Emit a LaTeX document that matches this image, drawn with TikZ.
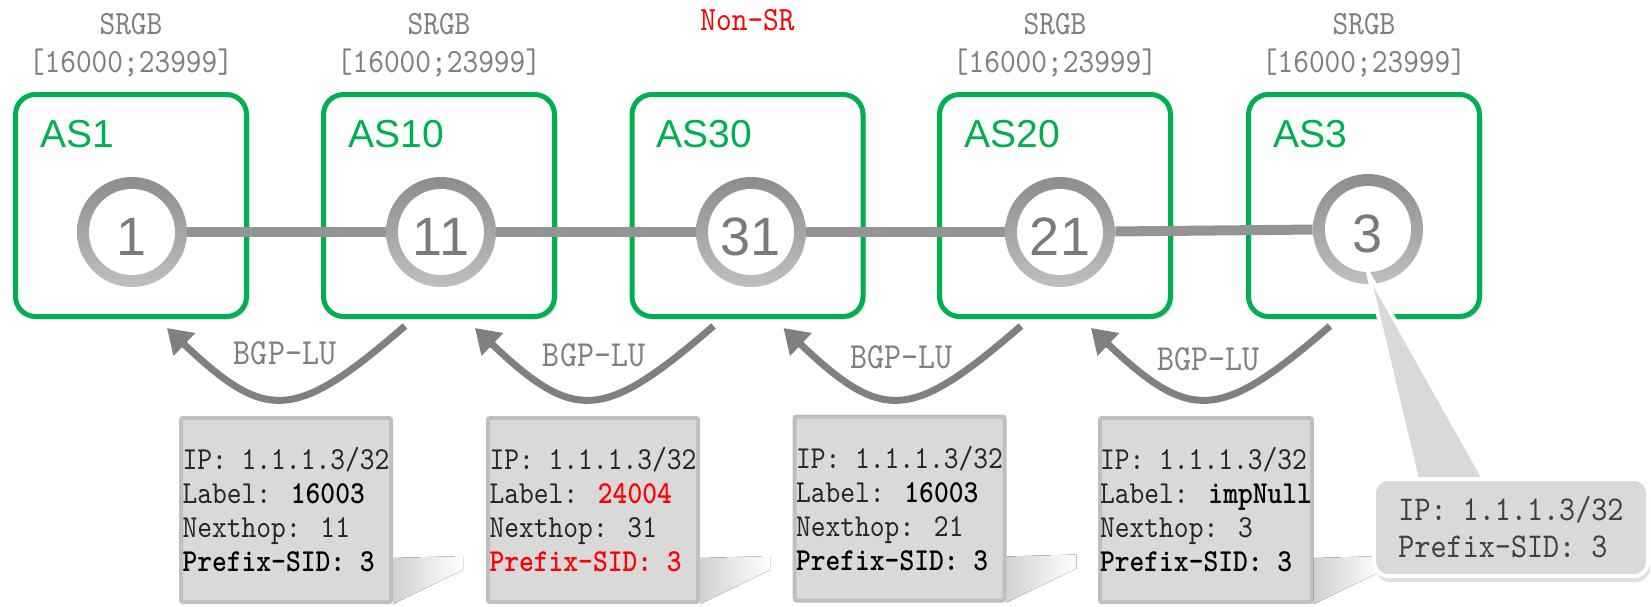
\documentclass[tikz,border=0pt]{standalone}
\usepackage{fontspec}
\newfontfamily\lsfont{Liberation Sans}
\newfontfamily\cnmono{lmmono10-regular.otf}[FakeStretch=0.88, BoldFont=lmmonolt10-bold.otf]
\usetikzlibrary{arrows.meta, positioning, shadows}

\definecolor{asgreen}{HTML}{00B050}
\definecolor{labgray}{HTML}{7F7F7F}
\definecolor{infogray}{HTML}{D9D9D9}
\definecolor{infoedge}{HTML}{BFBFBF}

\begin{document}
\begin{tikzpicture}[x=0.5pt, y=-0.5pt,
    asbox/.style={draw=asgreen, line width=2.5pt, fill=white, rounded corners=10pt,
      minimum width=115.5pt, minimum height=111pt,
      drop shadow={shadow xshift=1.5pt, shadow yshift=-1.5pt, opacity=0.25}},
    asname/.style={anchor=base west, inner sep=0pt, text=asgreen,
      font=\lsfont\fontsize{19.5}{20}\selectfont},
    router/.style={circle, minimum size=55pt, inner sep=0pt,
      top color=black!45, bottom color=black!25, text=black!52,
      text height=23pt, text depth=0pt,
      font=\lsfont\fontsize{27}{27}\selectfont,
      path picture={\fill[white] (path picture bounding box.center) circle[radius=21.5pt];}},
    link/.style={draw=black!42, line width=5pt},
    srgb/.style={inner sep=0pt, align=center, text=labgray,
      font=\cnmono\fontsize{17}{19}\selectfont},
    bgp/.style={draw=black!50, line width=3.5pt, -{Triangle[length=12pt, width=15pt]}},
    bgplabel/.style={anchor=base, inner sep=0pt, text=labgray,
      font=\cnmono\fontsize{18.4}{20}\selectfont},
    ribbox/.style={draw=infoedge, fill=infogray, line width=2pt, rounded corners=1pt,
      minimum width=105pt, minimum height=92pt, inner sep=0pt,
      align=left, text=black!85,
      font=\cnmono\fontsize{16}{17}\selectfont},
    sheen/.style={left color=black!18, right color=white},
    tipbox/.style={draw=white, line width=2pt, fill=infogray,
      rounded corners=7pt, minimum width=137pt, minimum height=48.5pt,
      align=left, text=black!75,
      font=\cnmono\fontsize{17.4}{18.5}\selectfont,
      drop shadow={shadow xshift=1pt, shadow yshift=-3pt, opacity=0.25}}]
  \useasboundingbox (0,0) rectangle (1651,606);

  \node[asbox] (as1)  at (131,205.5)   {};
  \node[asbox] (as10) at (439,205.5)   {};
  \node[asbox] (as30) at (747.5,205.5) {};
  \node[asbox] (as20) at (1055,205.5)  {};
  \node[asbox] (as3)  at (1364,205.5)  {};

  \node[asname] (as1name)  at ([shift={(27,55)}]as1.north west)  {AS1};
  \node[asname] (as10name) at ([shift={(27,55)}]as10.north west) {AS10};
  \node[asname] (as30name) at ([shift={(27,55)}]as30.north west) {AS30};
  \node[asname] (as20name) at ([shift={(27,55)}]as20.north west) {AS20};
  \node[asname] (as3name)  at ([shift={(27,55)}]as3.north west)  {AS3};

  \node[srgb, above=7pt of as1]  (srgb1)  {SRGB\\{[16000;23999]}};
  \node[srgb, above=7pt of as10] (srgb10) {SRGB\\{[16000;23999]}};
  \node[srgb, text=red, anchor=base] (nonsr) at ([yshift=31pt]as30.north) {Non-SR};
  \node[srgb, above=7pt of as20] (srgb20) {SRGB\\{[16000;23999]}};
  \node[srgb, above=7pt of as3]  (srgb3)  {SRGB\\{[16000;23999]}};

  \node[router] (r1)  at (132,232)  {1};
  \node[router] (r11) at (441,232)  {11};
  \node[router] (r31) at (751,232)  {31};
  \node[router] (r21) at (1060,232) {21};
  \node[router] (r3)  at (1368,229) {3};

  \draw[link] (r1) -- (r11);
  \draw[link] (r11) -- (r31);
  \draw[link] (r31) -- (r21);
  \draw[link] (r21) -- (r3);

  \draw[bgp] ([shift={(84,7)}]as10.south west) .. controls +(-110,95) and +(100,95) .. ([shift={(-82,9)}]as1.south east);
  \draw[bgp] ([shift={(84,7)}]as30.south west) .. controls +(-110,95) and +(100,95) .. ([shift={(-82,9)}]as10.south east);
  \draw[bgp] ([shift={(84,7)}]as20.south west) .. controls +(-110,95) and +(100,95) .. ([shift={(-82,9)}]as30.south east);
  \draw[bgp] ([shift={(84,7)}]as3.south west) .. controls +(-110,95) and +(100,95) .. ([shift={(-82,9)}]as20.south east);

  \node[bgplabel] (lu1) at (285,364)  {BGP-LU};
  \node[bgplabel] (lu2) at (594,366)  {BGP-LU};
  \node[bgplabel] (lu3) at (901,368)  {BGP-LU};
  \node[bgplabel] (lu4) at (1208,370) {BGP-LU};

  \node[ribbox] (rib1) at (286,510)
    {IP: 1.1.1.3/32\\Label: \textbf{\color{black}16003}\\Nexthop: 11\\\textbf{\color{black}Prefix-SID: 3}};
  \node[ribbox] (rib2) at (593,510)
    {IP: 1.1.1.3/32\\Label: \textbf{\color{red}24004}\\Nexthop: 31\\\textbf{\color{red}Prefix-SID: 3}};
  \node[ribbox] (rib3) at (899.5,508.5)
    {IP: 1.1.1.3/32\\Label: \textbf{\color{black}16003}\\Nexthop: 21\\\textbf{\color{black}Prefix-SID: 3}};
  \node[ribbox] (rib4) at (1206,510)
    {IP: 1.1.1.3/32\\Label: \textbf{\color{black}impNull}\\Nexthop: 3\\\textbf{\color{black}Prefix-SID: 3}};

  \fill[sheen] ([yshift=23pt]rib1.south east) -- ++(70,-2) -- ++(0,14) -- (rib1.south east) -- cycle;
  \fill[sheen] ([yshift=23pt]rib2.south east) -- ++(70,-2) -- ++(0,14) -- (rib2.south east) -- cycle;
  \fill[sheen] ([yshift=23pt]rib3.south east) -- ++(70,-2) -- ++(0,14) -- (rib3.south east) -- cycle;
  \fill[sheen] ([yshift=23pt]rib4.south east) -- ++(70,-2) -- ++(0,14) -- (rib4.south east) -- cycle;

  \filldraw[draw=white, fill=infogray, line width=2pt, line join=round]
    ([yshift=6pt]r3.south) -- (1418,484) -- (1487,484) -- cycle;
  \node[tipbox] (tip) at (1511,527.5) {IP: 1.1.1.3/32\\Prefix-SID: 3};
\end{tikzpicture}
\end{document}
